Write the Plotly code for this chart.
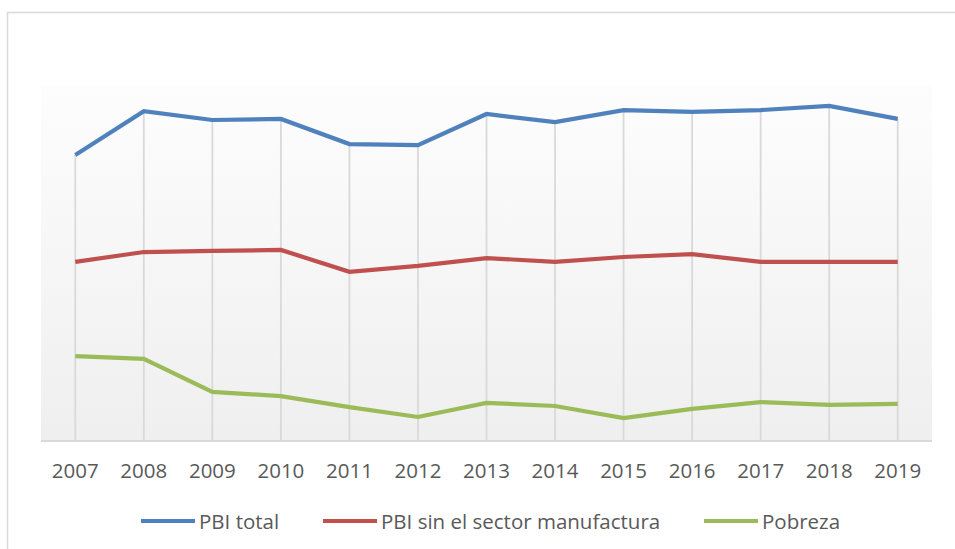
import base64
import plotly.graph_objects as go

# Years on the category axis
years = ["2007", "2008", "2009", "2010", "2011", "2012", "2013",
         "2014", "2015", "2016", "2017", "2018", "2019"]

# Index values (relative scale, 0-100)
pbi_total = [80.5, 92.9, 90.4, 90.7, 83.6, 83.3, 92.1, 89.8, 93.2, 92.7, 93.2, 94.4, 90.7]
pbi_sin_manufactura = [50.3, 53.1, 53.4, 53.7, 47.5, 49.2, 51.4, 50.3, 51.7, 52.5, 50.3, 50.3, 50.3]
pobreza = [23.7, 22.9, 13.6, 12.4, 9.3, 6.5, 10.5, 9.6, 6.2, 8.8, 10.7, 9.9, 10.2]

series_names = ["PBI total", "PBI sin el sector manufactura", "Pobreza"]
series_values = [pbi_total, pbi_sin_manufactura, pobreza]
series_colors = ["#4f81bd", "#c0504d", "#9bbb59"]

FONT = "Open Sans"
TEXT_COLOR = "#595959"
FONT_SIZE = 20.5

fig = go.Figure()

# Drop lines: from the highest series down to the category axis
drop_x, drop_y = [], []
for i, yr in enumerate(years):
    top = max(v[i] for v in series_values)
    drop_x += [yr, yr, None]
    drop_y += [0, top, None]
fig.add_trace(go.Scatter(
    x=drop_x, y=drop_y, mode="lines",
    line=dict(color="#d9d9d9", width=1.8),
    showlegend=False, hoverinfo="skip",
))

for name, vals, col in zip(series_names, series_values, series_colors):
    fig.add_trace(go.Scatter(
        x=years, y=vals, mode="lines", name=name,
        line=dict(color=col, width=4.2),
        showlegend=False,
    ))

# Vertical gradient fill for the plot area
svg = (
    '<svg xmlns="http://www.w3.org/2000/svg" width="100" height="100" preserveAspectRatio="none">'
    '<defs><linearGradient id="g" x1="0" y1="0" x2="0" y2="1">'
    '<stop offset="0" stop-color="#fdfdfd"/><stop offset="1" stop-color="#efefef"/>'
    '</linearGradient></defs><rect width="100" height="100" fill="url(#g)"/></svg>'
)
bg_src = "data:image/svg+xml;base64," + base64.b64encode(svg.encode()).decode()

W, H = 955, 549
L, R, T, B = 41, 23, 86, 109
pw, ph = W - L - R, H - T - B


def px_x(x):
    return (x - L) / pw


def px_y(y):
    return (H - B - y) / ph


shapes = [
    # outer chart frame
    dict(type="rect", xref="paper", yref="paper",
         x0=px_x(7.5), x1=px_x(975), y0=px_y(570), y1=px_y(12.5),
         line=dict(color="#d9d9d9", width=1.5), fillcolor="rgba(0,0,0,0)", layer="below"),
]

# Legend built from the series list
annotations = []
legend_y = px_y(521)
legend_x = [141, 323, 704]
for name, col, x0 in zip(series_names, series_colors, legend_x):
    shapes.append(dict(type="line", xref="paper", yref="paper",
                       x0=px_x(x0), x1=px_x(x0 + 54), y0=legend_y, y1=legend_y,
                       line=dict(color=col, width=4.2)))
    annotations.append(dict(xref="paper", yref="paper", x=px_x(x0 + 56), y=legend_y,
                            text=name, showarrow=False, xanchor="left", yanchor="middle",
                            font=dict(family=FONT, size=FONT_SIZE, color=TEXT_COLOR)))

fig.update_layout(
    width=W, height=H,
    margin=dict(l=L, r=R, t=T, b=B),
    paper_bgcolor="white",
    plot_bgcolor="rgba(0,0,0,0)",
    images=[dict(source=bg_src, xref="paper", yref="paper", x=0, y=1,
                 sizex=1, sizey=1, sizing="stretch", layer="below",
                 xanchor="left", yanchor="top")],
    shapes=shapes,
    annotations=annotations,
    xaxis=dict(
        type="category", categoryorder="array", categoryarray=years,
        range=[-0.5, len(years) - 0.5],
        showgrid=False, zeroline=False,
        showline=True, linecolor="#d9d9d9", linewidth=2,
        ticks="", tickfont=dict(family=FONT, size=FONT_SIZE, color=TEXT_COLOR),
        ticklabelstandoff=11,
    ),
    yaxis=dict(range=[0, 100], visible=False, showgrid=False, zeroline=False),
    showlegend=False,
)

fig.write_html("out.html")
